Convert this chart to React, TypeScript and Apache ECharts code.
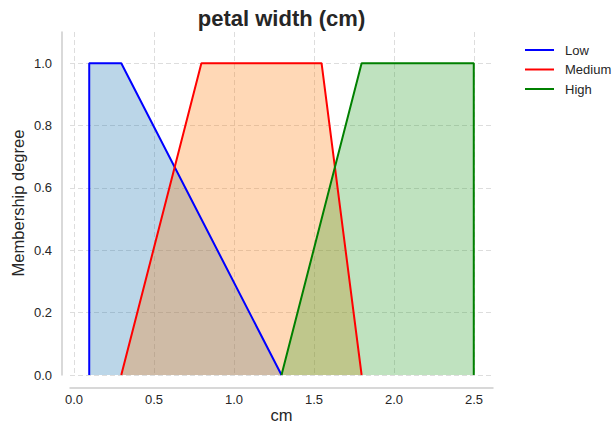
import React, { useEffect, useRef } from "react";
import * as echarts from "echarts";

const lowX = [0.1, 0.1, 0.3, 1.3];
const lowY = [0, 1, 1, 0];
const medX = [0.3, 0.8, 1.55, 1.8];
const medY = [0, 1, 1, 0];
const highX = [1.3, 1.8, 2.5, 2.5];
const highY = [0, 1, 1, 0];

const names = ["Low", "Medium", "High"];
const lineColors = ["#0000ff", "#ff0000", "#008000"];
const fillColors = ["rgba(31,119,180,0.3)", "rgba(255,127,14,0.3)", "rgba(44,160,44,0.3)"];

const xTickMin = 0;
const xTickMax = 2.5;
const xTickStep = 0.5;
const yTickMin = 0;
const yTickMax = 1.0;
const yTickStep = 0.2;
const xViewMin = -0.02;
const xViewMax = 2.62;
const yViewMin = 0;
const yViewMax = 1.1;

const FONT = "'Liberation Sans', Arial, sans-serif";
const TXT = "#262626";

function pairs(xs: number[], ys: number[]) {
  return xs.map((x, i) => [x, ys[i]]);
}

export default function App() {
  const ref = useRef<HTMLDivElement>(null);
  useEffect(() => {
    if (!ref.current) return;
    const chart = echarts.init(ref.current, null, { renderer: "svg" });
    const sets = [pairs(lowX, lowY), pairs(medX, medY), pairs(highX, highY)];
    const areaSeries = sets.map((d, i) => ({
      name: names[i] + " fill",
      type: "line",
      xAxisIndex: 0,
      yAxisIndex: 0,
      data: d,
      symbol: "none",
      lineStyle: { width: 0, opacity: 0 },
      areaStyle: { color: fillColors[i], opacity: 1 },
      z: 2,
      silent: true,
    }));
    const lineSeries = sets.map((d, i) => ({
      name: names[i],
      type: "line",
      xAxisIndex: 0,
      yAxisIndex: 0,
      data: d,
      symbol: "none",
      color: lineColors[i],
      lineStyle: { width: 2, color: lineColors[i] },
      z: 3,
    }));
    const spine = { show: true, lineStyle: { color: "#cccccc", width: 1.5 } };
    const split = { show: true, lineStyle: { color: "#dddddd", type: [5, 3], width: 1 } };
    const off = { show: false };
    const hiddenX = (g: number) => ({ type: "value", gridIndex: g, min: xViewMin, max: xViewMax, show: false });
    const hiddenY = (g: number) => ({ type: "value", gridIndex: g, min: yViewMin, max: yViewMax, show: false });
    const label = { show: true, color: TXT, fontSize: 13, fontFamily: FONT, formatter: (v: number) => v.toFixed(1) };
    chart.setOption({
      animation: false,
      backgroundColor: "#ffffff",
      textStyle: { fontFamily: FONT },
      grid: [
        { left: 70, right: 121, top: 32, bottom: 48 }, // 0 data
        { left: 70, right: 121, top: 63.2, bottom: 48 }, // 1 horizontal grid
        { left: 58, right: 121, top: 63.2, bottom: 48 }, // 2 y labels
        { left: 58, right: 121, top: 32, bottom: 48 }, // 3 y spine
        { left: 74, width: 400, top: 32, bottom: 48 }, // 4 vertical grid
        { left: 74, width: 400, top: 32, bottom: 35 }, // 5 x labels
        { left: 70, right: 121, top: 32, bottom: 35 }, // 6 x spine
      ],
      xAxis: [
        hiddenX(0),
        hiddenX(1),
        hiddenX(2),
        hiddenX(3),
        {
          type: "value", gridIndex: 4, min: xTickMin, max: xTickMax, interval: xTickStep,
          axisLine: off, axisTick: off, axisLabel: off, splitLine: split,
        },
        {
          type: "value", gridIndex: 5, min: xTickMin, max: xTickMax, interval: xTickStep,
          axisLine: off, axisTick: off, splitLine: off, axisLabel: { ...label, margin: 5 },
        },
        {
          type: "value", gridIndex: 6, min: xViewMin, max: xViewMax,
          axisLine: spine, axisTick: off, axisLabel: off, splitLine: off,
        },
      ],
      yAxis: [
        hiddenY(0),
        {
          type: "value", gridIndex: 1, min: yTickMin, max: yTickMax, interval: yTickStep,
          axisLine: off, axisTick: off, axisLabel: off, splitLine: split,
        },
        {
          type: "value", gridIndex: 2, min: yTickMin, max: yTickMax, interval: yTickStep,
          axisLine: off, axisTick: off, splitLine: off, axisLabel: { ...label, margin: 6 },
        },
        {
          type: "value", gridIndex: 3, min: yViewMin, max: yViewMax,
          axisLine: spine, axisTick: off, axisLabel: off, splitLine: off,
        },
        hiddenY(4),
        hiddenY(5),
        hiddenY(6),
      ],
      legend: {
        data: names,
        orient: "vertical",
        left: 525,
        top: 43,
        padding: 0,
        icon: "rect",
        itemWidth: 29,
        itemHeight: 2,
        itemGap: 5.5,
        selectedMode: false,
        textStyle: { color: TXT, fontSize: 13, fontFamily: FONT, lineHeight: 14, padding: [0, 0, 0, 6] },
      },
      graphic: [
        {
          type: "text", x: 281.5, y: 18,
          style: {
            text: "petal width (cm)", textAlign: "center", textVerticalAlign: "middle",
            font: "bold 22px 'Liberation Sans', Arial, sans-serif", fill: TXT,
          },
        },
        {
          type: "text", x: 18, y: 203, rotation: Math.PI / 2,
          style: {
            text: "Membership degree", textAlign: "center", textVerticalAlign: "middle",
            font: "16.5px 'Liberation Sans', Arial, sans-serif", fill: TXT,
          },
        },
        {
          type: "text", x: 281.5, y: 415,
          style: {
            text: "cm", textAlign: "center", textVerticalAlign: "middle",
            font: "16.5px 'Liberation Sans', Arial, sans-serif", fill: TXT,
          },
        },
      ],
      series: [...areaSeries, ...lineSeries],
    });
    return () => chart.dispose();
  }, []);
  return <div ref={ref} style={{ width: 614, height: 423, position: "absolute", left: 0, top: 0 }} />;
}
